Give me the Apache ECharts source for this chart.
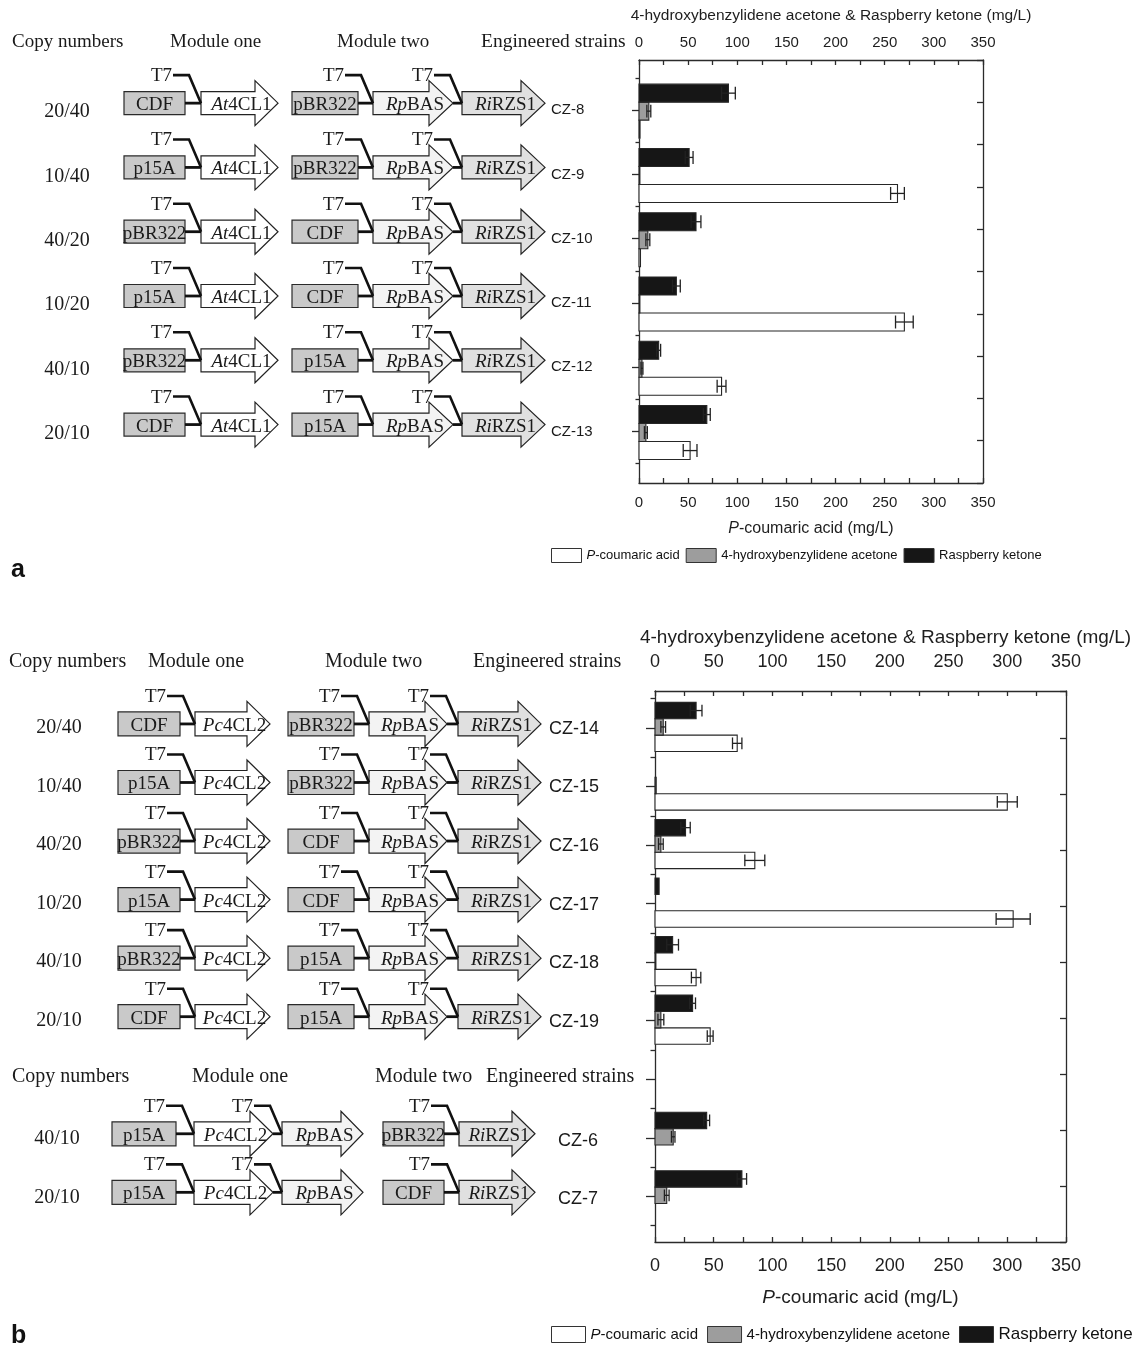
<!DOCTYPE html>
<html><head><meta charset="utf-8">
<script src="https://cdn.jsdelivr.net/npm/echarts@6/dist/echarts.min.js"></script>
<style>html,body{margin:0;padding:0;background:#fff}#c{width:1137px;height:1349px}</style>
</head><body><div id="c"></div>
<script>
// ================= DATA =================
const axisTicks = [0, 50, 100, 150, 200, 250, 300, 350];
const seriesNames = ['P-coumaric acid', '4-hydroxybenzylidene acetone', 'Raspberry ketone'];

// ---- panel a ----
const aStrains = ['CZ-8', 'CZ-9', 'CZ-10', 'CZ-11', 'CZ-12', 'CZ-13'];
const aCopy = ['20/40', '10/40', '40/20', '10/20', '40/10', '20/10'];
const aOriOne = ['CDF', 'p15A', 'pBR322', 'p15A', 'pBR322', 'CDF'];
const aGenesOne = [['At4CL1'], ['At4CL1'], ['At4CL1'], ['At4CL1'], ['At4CL1'], ['At4CL1']];
const aOriTwo = ['pBR322', 'pBR322', 'CDF', 'CDF', 'p15A', 'p15A'];
const aGenesTwo = [['RpBAS', 'RiRZS1'], ['RpBAS', 'RiRZS1'], ['RpBAS', 'RiRZS1'], ['RpBAS', 'RiRZS1'], ['RpBAS', 'RiRZS1'], ['RpBAS', 'RiRZS1']];
const aCoumaric = [1, 263, 1.5, 270, 84, 52];
const aCoumaricErr = [0, 7, 0, 9, 4.5, 7];
const aHBA = [10, 0.5, 9, 0.5, 3, 7];
const aHBAErr = [2, 0, 2, 0, 1, 1.5];
const aRK = [91, 51, 58, 38, 20, 69];
const aRKErr = [7, 4, 5, 4, 2, 3.5];

// ---- panel b ----  ('' = header row without data)
const bStrains = ['CZ-14', 'CZ-15', 'CZ-16', 'CZ-17', 'CZ-18', 'CZ-19', '', 'CZ-6', 'CZ-7'];
const bCopy = ['20/40', '10/40', '40/20', '10/20', '40/10', '20/10', '', '40/10', '20/10'];
const bOriOne = ['CDF', 'p15A', 'pBR322', 'p15A', 'pBR322', 'CDF', '', 'p15A', 'p15A'];
const bGenesOne = [['Pc4CL2'], ['Pc4CL2'], ['Pc4CL2'], ['Pc4CL2'], ['Pc4CL2'], ['Pc4CL2'], [], ['Pc4CL2', 'RpBAS'], ['Pc4CL2', 'RpBAS']];
const bOriTwo = ['pBR322', 'pBR322', 'CDF', 'CDF', 'p15A', 'p15A', '', 'pBR322', 'CDF'];
const bGenesTwo = [['RpBAS', 'RiRZS1'], ['RpBAS', 'RiRZS1'], ['RpBAS', 'RiRZS1'], ['RpBAS', 'RiRZS1'], ['RpBAS', 'RiRZS1'], ['RpBAS', 'RiRZS1'], [], ['RiRZS1'], ['RiRZS1']];
const bCoumaric = [70, 300, 85, 305, 35, 47, null, 0, 0];
const bCoumaricErr = [4, 8.5, 8.5, 14.5, 4, 2.5, null, 0, 0];
const bHBA = [7, 1, 5, 0, 0.5, 5, null, 15.5, 10];
const bHBAErr = [2, 0, 2, 0, 0, 2.5, null, 1.5, 2];
const bRK = [35, 0, 26, 3.5, 15, 32, null, 44, 74];
const bRKErr = [5, 0, 4, 0, 5, 2.5, null, 2.5, 4];

// header texts
const headerTexts = ['Copy numbers', 'Module one', 'Module two', 'Engineered strains'];
const promoterName = 'T7';

// ================= RENDERING =================
const SERIF = '"Liberation Serif","Times New Roman",serif';
const SANS = '"Liberation Sans",Arial,sans-serif';
const INK = '#1a1a1a';
const AX = '#2b2b2b';

const GENE_FILL = { At4CL1: '#ffffff', Pc4CL2: '#ffffff', RpBAS: '#f3f3f3', RiRZS1: '#e0e0e0' };
const BAR_FILL = { 'P-coumaric acid': '#ffffff', '4-hydroxybenzylidene acetone': '#9d9d9d', 'Raspberry ketone': '#161616' };

const LAYOUT = {
  a: { copyX: 67, copyDy: 2, dy: -7, czX: 551, czDy: 0, czSize: 15, boxH: 23, headH: 45, fs: 19, copyFs: 20,
       box1: [124, 185], arrows1: [[201, 255, 278]], box2: [292, 358], arrows2: [[373, 429, 453], [462, 521, 545]] },
  b: { copyX: 59, copyDy: 0, dy: -4, czX: 549, czDy: 1, czSize: 18, boxH: 24, headH: 45, fs: 19, copyFs: 20,
       box1: [118, 180], arrows1: [[195, 247, 270]], box2: [288, 354], arrows2: [[369, 425, 447], [458, 518, 541]] },
  b2: { copyX: 57, copyDy: 1, dy: -4, czX: 558, czDy: 3, czSize: 18, boxH: 24, headH: 45, fs: 19, copyFs: 20,
       box1: [112, 176], arrows1: [[194, 250, 273], [282, 341, 363]], box2: [383, 444], arrows2: [[459, 512, 535]] }
};

function geneParts(g) { const m = g.match(/^([A-Z][a-z])(.*)$/); return m ? [m[1], m[2]] : ['', g]; }

function txt(x, y, text, family, size, align, extra) {
  return { type: 'text', x: x, y: y, z2: 30, style: Object.assign({ text: text, fontFamily: family, fontSize: size, fill: INK, align: align, verticalAlign: 'middle' }, extra || {}) };
}

function makeDiagram(panelKey, strains, copy, ori1, genes1, ori2, genes2) {
  return function (params, api) {
    const i = api.value(1);
    if (!strains[i]) return null;
    const L = (panelKey === 'b' && genes1[i].length === 2) ? LAYOUT.b2 : LAYOUT[panelKey];
    const tickY = api.coord([0, i])[1];
    const X = function (p) { return api.coord([p, i])[0]; };
    const cy = tickY + L.dy;
    const shapes = [], lines = [], texts = [];
    const rich = {
      it: { fontStyle: 'italic', fontFamily: SERIF, fontSize: L.fs, fill: INK },
      n: { fontFamily: SERIF, fontSize: L.fs, fill: INK }
    };
    function module(box, ori, arrows, genes) {
      const bx0 = X(box[0]), bx1 = X(box[1]);
      shapes.push({ type: 'rect', shape: { x: bx0, y: cy - L.boxH / 2, width: bx1 - bx0, height: L.boxH }, style: { fill: '#c9c9c9', stroke: '#2a2a2a', lineWidth: 1.2 } });
      texts.push(txt((bx0 + bx1) / 2, cy + 2, ori, SERIF, L.fs, 'center'));
      let prev = bx1;
      arrows.forEach(function (a, k) {
        const s = X(a[0]), b = X(a[1]), t = X(a[2]);
        const g = genes[k];
        const h = L.boxH, H = L.headH;
        shapes.push({ type: 'polygon', shape: { points: [[s, cy - h / 2], [b, cy - h / 2], [b, cy - H / 2], [t, cy], [b, cy + H / 2], [b, cy + h / 2], [s, cy + h / 2]] },
          style: { fill: GENE_FILL[g] || '#fff', stroke: '#222', lineWidth: 1.2 } });
        lines.push({ type: 'line', shape: { x1: prev, y1: cy, x2: s, y2: cy }, style: { stroke: '#111', lineWidth: 2.8 } });
        lines.push({ type: 'polyline', shape: { points: [[s - 28, cy - 28], [s - 12, cy - 28], [s, cy]] }, style: { stroke: '#111', lineWidth: 2.6, fill: null } });
        texts.push(txt(s - 29, cy - 27, promoterName, SERIF, L.fs, 'right'));
        const gp = geneParts(g);
        texts.push({ type: 'text', x: (s + t) / 2 + 2, y: cy + 2, z2: 30, style: { text: '{it|' + gp[0] + '}{n|' + gp[1] + '}', rich: rich, align: 'center', verticalAlign: 'middle', fontFamily: SERIF, fontSize: L.fs, fill: INK } });
        prev = t;
      });
    }
    module(L.box1, ori1[i], L.arrows1, genes1[i]);
    module(L.box2, ori2[i], L.arrows2, genes2[i]);
    texts.push(txt(X(L.copyX), tickY + L.copyDy, copy[i], SERIF, L.copyFs, 'center'));
    texts.push(txt(X(L.czX), tickY + L.czDy, strains[i], SANS, L.czSize, 'left'));
    return { type: 'group', children: shapes.concat(lines, texts) };
  };
}

function makeBar(name, sign, shift) {
  return function (params, api) {
    const v = api.value(0), i = api.value(1), e = api.value(2);
    if (v == null || isNaN(v)) return null;
    const band = Math.abs(api.size([0, 1])[1]);
    const h = band * 0.28;
    const base = api.coord([0, i]);
    const cy = base[1] + sign * h + shift;
    const x1 = api.coord([v, i])[0];
    const children = [];
    if (v > 0) {
      children.push({ type: 'rect', shape: { x: base[0], y: cy - h / 2, width: Math.max(x1 - base[0], 0.8), height: h },
        style: { fill: BAR_FILL[name], stroke: '#262626', lineWidth: 1.1 } });
    }
    if (e > 0) {
      const xl = api.coord([v - e, i])[0], xr = api.coord([v + e, i])[0], ch = h * 0.36;
      const st = { stroke: '#222', lineWidth: 1.3 };
      children.push({ type: 'line', shape: { x1: xl, y1: cy, x2: xr, y2: cy }, style: st });
      children.push({ type: 'line', shape: { x1: xl, y1: cy - ch, x2: xl, y2: cy + ch }, style: st });
      children.push({ type: 'line', shape: { x1: xr, y1: cy - ch, x2: xr, y2: cy + ch }, style: st });
    }
    return { type: 'group', children: children };
  };
}

function rows(vals, errs) { return vals.map(function (v, i) { return [v, i, errs[i]]; }); }
function range(n, off) { const r = []; for (let k = 0; k < n; k++) r.push(k + off); return r; }

function xAxisCfg(grid, pos, fs, margin, name, nameGap, padLeft, nfs) {
  const ls = { color: AX, width: 1.3 };
  return {
    type: 'value', gridIndex: grid, position: pos, min: axisTicks[0], max: axisTicks[axisTicks.length - 1], interval: axisTicks[1] - axisTicks[0],
    axisLine: { show: true, onZero: false, lineStyle: ls },
    axisTick: { show: true, inside: true, length: 5, lineStyle: ls },
    minorTick: { show: true, splitNumber: 2, length: 5, lineStyle: ls },
    axisLabel: { fontSize: fs, fontFamily: SANS, color: '#1e1e1e', margin: margin },
    splitLine: { show: false }, minorSplitLine: { show: false },
    name: name, nameLocation: 'middle', nameGap: nameGap,
    nameTextStyle: { fontSize: nfs, fontFamily: SANS, color: '#1e1e1e', padding: [0, 0, 0, padLeft],
      rich: { it: { fontStyle: 'italic', fontSize: nfs, fontFamily: SANS, color: '#1e1e1e' }, n: { fontSize: nfs, fontFamily: SANS, color: '#1e1e1e' } } }
  };
}
function yMain(grid, min, max, vals, len) {
  const ls = { color: AX, width: 1.3 };
  return { type: 'value', gridIndex: grid, position: 'left', min: min, max: max, inverse: true,
    axisLine: { show: true, onZero: false, lineStyle: ls },
    axisTick: { show: true, inside: false, length: len, customValues: vals, lineStyle: ls },
    axisLabel: { show: false, customValues: vals }, splitLine: { show: false } };
}
function yRight(grid, max) {
  const ls = { color: AX, width: 1.3 };
  return { type: 'value', gridIndex: grid, position: 'right', min: 0, max: max, interval: 1,
    axisLine: { show: true, onZero: false, lineStyle: ls },
    axisTick: { show: true, inside: true, length: 6, lineStyle: ls },
    axisLabel: { show: false }, splitLine: { show: false } };
}

const A_MIN = -0.78, A_MAX = 5.8, B_MIN = -0.631, B_MAX = 8.78;

function hdr(x, y, t, size) { return { type: 'text', x: x, y: y, style: { text: t, fontFamily: SERIF, fontSize: size, fill: INK, align: 'left', verticalAlign: 'middle' } }; }

const legendRich = function (fs) {
  return { it: { fontStyle: 'italic', fontSize: fs, fontFamily: SANS, color: '#111' }, n: { fontSize: fs, fontFamily: SANS, color: '#111' } };
};
const legendFmt = function (name) { return name === 'P-coumaric acid' ? '{it|P}{n|-coumaric acid}' : '{n|' + name + '}'; };

const option = {
  backgroundColor: '#fff',
  animation: false,
  grid: [
    { left: 639, top: 60, width: 344, height: 423 },
    { left: 655, top: 691, width: 411, height: 551 },
    { left: 0, top: 60, width: 620, height: 423 },
    { left: 0, top: 691, width: 640, height: 551 }
  ],
  xAxis: [
    xAxisCfg(0, 'bottom', 15, 12, '{it|P}{n|-coumaric acid (mg/L)}', 38, 0, 16),
    xAxisCfg(0, 'top', 15, 10, '4-hydroxybenzylidene acetone & Raspberry ketone (mg/L)', 36, 40, 15.5),
    xAxisCfg(1, 'bottom', 18, 15, '{it|P}{n|-coumaric acid (mg/L)}', 46, 0, 19),
    xAxisCfg(1, 'top', 18, 20, '4-hydroxybenzylidene acetone & Raspberry ketone (mg/L)', 44, 50, 19),
    { type: 'value', gridIndex: 2, min: 0, max: 620, show: false },
    { type: 'value', gridIndex: 3, min: 0, max: 640, show: false }
  ],
  yAxis: [
    yMain(0, A_MIN, A_MAX, range(6, 0), 7),
    Object.assign(yMain(0, A_MIN, A_MAX, range(7, -0.5), 3.5), { axisLine: { show: false } }),
    yRight(0, 10),
    yMain(1, B_MIN, B_MAX, range(9, 0), 9),
    Object.assign(yMain(1, B_MIN, B_MAX, range(10, -0.5), 4.5), { axisLine: { show: false } }),
    yRight(1, 9.85),
    { type: 'value', gridIndex: 2, min: A_MIN, max: A_MAX, inverse: true, show: false },
    { type: 'value', gridIndex: 3, min: B_MIN, max: B_MAX, inverse: true, show: false }
  ],
  legend: [
    { left: 551, top: 548, padding: 0, itemWidth: 30, itemHeight: 14, itemGap: 6, icon: 'rect', selectedMode: false, data: seriesNames,
      itemStyle: { borderColor: '#333', borderWidth: 1 }, formatter: legendFmt,
      textStyle: { fontSize: 13, fontFamily: SANS, color: '#111', rich: legendRich(13) } },
    { left: 551, top: 1326, padding: 0, itemWidth: 34, itemHeight: 16, itemGap: 9, icon: 'rect', selectedMode: false,
      data: [seriesNames[0], seriesNames[1], { name: seriesNames[2], textStyle: { fontSize: 17, rich: legendRich(17) } }],
      itemStyle: { borderColor: '#333', borderWidth: 1 }, formatter: legendFmt,
      textStyle: { fontSize: 15, fontFamily: SANS, color: '#111', rich: legendRich(15) } }
  ],
  graphic: [
    hdr(12, 42, headerTexts[0], 19), hdr(170, 42, headerTexts[1], 19), hdr(337, 42, headerTexts[2], 19), hdr(481, 42, headerTexts[3], 19.5),
    hdr(9, 662, headerTexts[0], 20), hdr(148, 662, headerTexts[1], 20), hdr(325, 662, headerTexts[2], 20), hdr(473, 662, headerTexts[3], 20),
    hdr(12, 1077, headerTexts[0], 20), hdr(192, 1077, headerTexts[1], 20), hdr(375, 1077, headerTexts[2], 20), hdr(486, 1077, headerTexts[3], 20),
    { type: 'text', x: 11, y: 570, style: { text: 'a', fontFamily: SANS, fontSize: 25, fontWeight: 'bold', fill: '#111', verticalAlign: 'middle' } },
    { type: 'text', x: 11, y: 1336, style: { text: 'b', fontFamily: SANS, fontSize: 25, fontWeight: 'bold', fill: '#111', verticalAlign: 'middle' } }
  ],
  series: [
    { name: seriesNames[0], type: 'custom', xAxisIndex: 0, yAxisIndex: 0, encode: { x: 0, y: 1 }, data: rows(aCoumaric, aCoumaricErr), renderItem: makeBar(seriesNames[0], 1, 1), itemStyle: { color: BAR_FILL[seriesNames[0]], borderColor: '#333', borderWidth: 1 }, z: 3 },
    { name: seriesNames[1], type: 'custom', xAxisIndex: 1, yAxisIndex: 0, encode: { x: 0, y: 1 }, data: rows(aHBA, aHBAErr), renderItem: makeBar(seriesNames[1], 0, 1), itemStyle: { color: BAR_FILL[seriesNames[1]], borderColor: '#333', borderWidth: 1 }, z: 3 },
    { name: seriesNames[2], type: 'custom', xAxisIndex: 1, yAxisIndex: 0, encode: { x: 0, y: 1 }, data: rows(aRK, aRKErr), renderItem: makeBar(seriesNames[2], -1, 1), itemStyle: { color: BAR_FILL[seriesNames[2]], borderColor: '#333', borderWidth: 1 }, z: 3 },
    { name: seriesNames[0], type: 'custom', xAxisIndex: 2, yAxisIndex: 3, encode: { x: 0, y: 1 }, data: rows(bCoumaric, bCoumaricErr), renderItem: makeBar(seriesNames[0], 1, -1), itemStyle: { color: BAR_FILL[seriesNames[0]], borderColor: '#333', borderWidth: 1 }, z: 3 },
    { name: seriesNames[1], type: 'custom', xAxisIndex: 3, yAxisIndex: 3, encode: { x: 0, y: 1 }, data: rows(bHBA, bHBAErr), renderItem: makeBar(seriesNames[1], 0, -1), itemStyle: { color: BAR_FILL[seriesNames[1]], borderColor: '#333', borderWidth: 1 }, z: 3 },
    { name: seriesNames[2], type: 'custom', xAxisIndex: 3, yAxisIndex: 3, encode: { x: 0, y: 1 }, data: rows(bRK, bRKErr), renderItem: makeBar(seriesNames[2], -1, -1), itemStyle: { color: BAR_FILL[seriesNames[2]], borderColor: '#333', borderWidth: 1 }, z: 3 },
    { name: 'diagram-a', type: 'custom', xAxisIndex: 4, yAxisIndex: 6, encode: { x: 0, y: 1 }, silent: true,
      data: aStrains.map(function (s, i) { return [0, i]; }), renderItem: makeDiagram('a', aStrains, aCopy, aOriOne, aGenesOne, aOriTwo, aGenesTwo) },
    { name: 'diagram-b', type: 'custom', xAxisIndex: 5, yAxisIndex: 7, encode: { x: 0, y: 1 }, silent: true,
      data: bStrains.map(function (s, i) { return [0, i]; }), renderItem: makeDiagram('b', bStrains, bCopy, bOriOne, bGenesOne, bOriTwo, bGenesTwo) }
  ]
};

const chart = echarts.init(document.getElementById('c'));
chart.setOption(option);
</script>
</body></html>
